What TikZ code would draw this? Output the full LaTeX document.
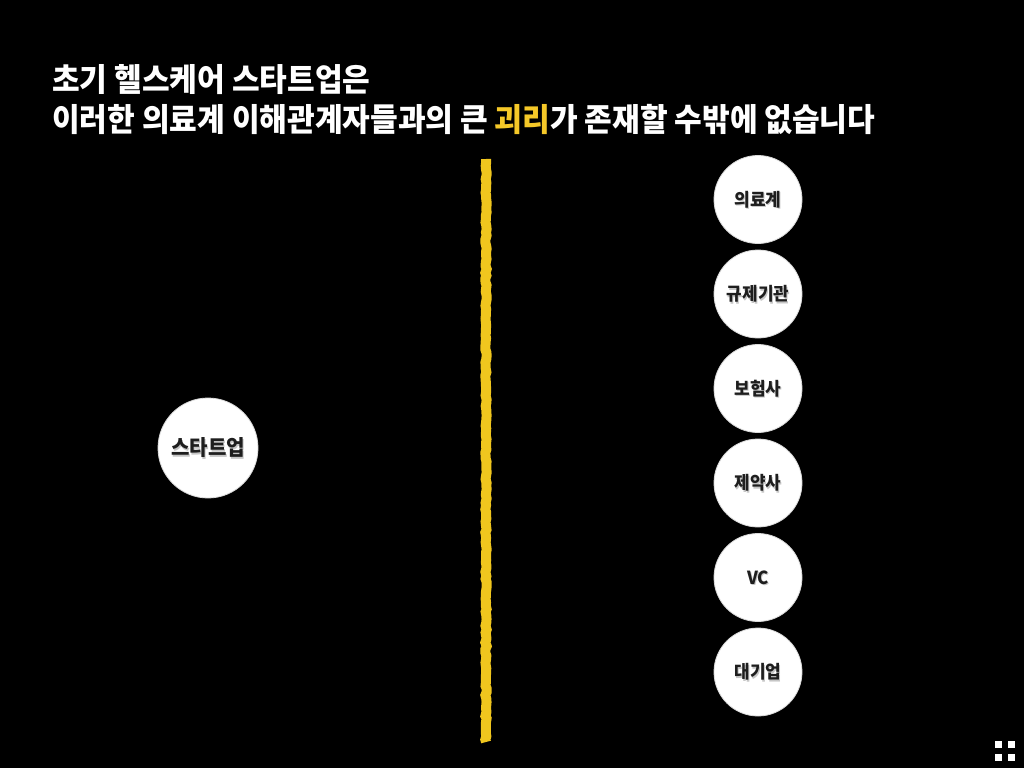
\documentclass[tikz,border=0pt]{standalone}
\usepackage{fontspec}
\usetikzlibrary{decorations.pathmorphing}
\newfontfamily\kr{Noto Sans CJK KR}[FakeStretch=0.94]
\definecolor{chalkyellow}{RGB}{240,198,30}
\definecolor{hlyellow}{RGB}{245,200,40}
\definecolor{textdark}{RGB}{30,30,30}
\tikzset{
  titletext/.style={anchor=base west, inner sep=0pt, text=white, font=\kr\bfseries\fontsize{24pt}{28pt}\selectfont},
  bubble/.style={circle, fill=white, draw=gray!30, line width=0.6pt, minimum size=66pt, inner sep=0pt},
  bigbubble/.style={bubble, minimum size=75pt},
  bubbletext/.style={inner sep=0pt, text=textdark, font=\kr\bfseries\fontsize{13.5pt}{15pt}\selectfont},
  bigbubbletext/.style={bubbletext, font=\kr\bfseries\fontsize{16pt}{18pt}\selectfont},
  shadowtext/.style={text=gray!45},
  chalk/.style={draw=chalkyellow, line width=7.5pt, decorate, decoration={random steps, segment length=2.5pt, amplitude=0.5pt}},
  iconsq/.style={fill=white},
}
\begin{document}
\begin{tikzpicture}[x=0.75pt, y=-0.75pt]
\fill[black] (0,0) rectangle (1024,768);
\useasboundingbox (0,0) rectangle (1024,768);

% title
\node[titletext] (t1) at (52,91) {초기 헬스케어 스타트업은};
\node[titletext] (t2) at (52,131) {이러한 의료계 이해관계자들과의 큰 \textcolor{hlyellow}{괴리}가 존재할 수밖에 없습니다};

% divider
\pgfmathsetseed{7}
\coordinate (lt) at (486,159);
\coordinate (lb) at (486,742);
\draw[chalk] (lt) -- (lb);

% startup
\node[bigbubble] (su) at (208,448) {};
\node[bigbubbletext, shadowtext] at ([shift={(1,1.5)}]su) {스타트업};
\node[bigbubbletext] (sut) at (su) {스타트업};

% stakeholders
\foreach \n/\y/\t in {med/199.5/의료계, reg/294/규제기관, ins/388.5/보험사, pha/483/제약사, vc/577.5/VC, corp/672/대기업}{
  \node[bubble] (\n) at (758,\y) {};
  \node[bubbletext, shadowtext] at ([shift={(1,1.5)}]\n) {\t};
  \node[bubbletext] (\n t) at (\n) {\t};
}

% corner icon
\fill[iconsq] (995,741) rectangle (1002,748);
\fill[iconsq] (1008,741) rectangle (1015,748);
\fill[iconsq] (995,754) rectangle (1002,761);
\fill[iconsq] (1008,754) rectangle (1015,761);
\end{tikzpicture}
\end{document}
